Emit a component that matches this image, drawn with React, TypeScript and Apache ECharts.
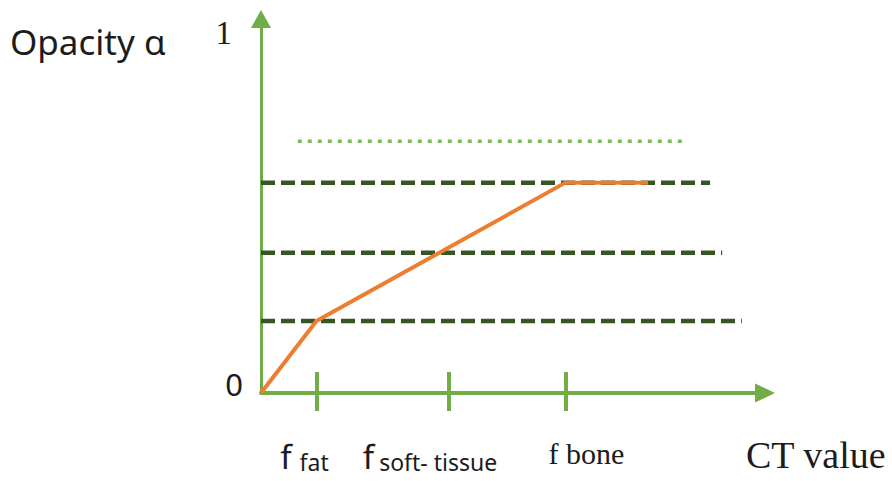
import React, { useEffect, useRef } from "react";
import * as echarts from "echarts";

// CT value positions (arbitrary 0..100 scale)
const tissueNames = ["fat", "soft-tissue", "bone"];
const tissueCT = [11, 37.3, 60.4];
// opacity transfer function (orange)
const transferCT = [0, 11, 60.4, 76.8];
const transferOpacity = [0, 0.2, 0.585, 0.585];
// dashed reference levels
const levelValues = [0.585, 0.39, 0.2];
const levelEnds = [89.1, 91.5, 95.4];
// dotted reference level
const dottedValue = 0.7;
const dottedRange = [7.3, 83.7];
// y tick labels
const yTickValues = [0, 1];

const GREEN = "#70AD47";
const DARK_GREEN = "#375623";
const ORANGE = "#ED7D31";
const TEXT = "#1c1c1c";

export default function App() {
  const ref = useRef<HTMLDivElement>(null);
  useEffect(() => {
    document.body.style.margin = "0";
    const chart = echarts.init(ref.current!, null, { renderer: "svg" });

    const series: any[] = [];
    levelValues.forEach((v, i) => {
      series.push({
        type: "line",
        data: [
          [0, v],
          [levelEnds[i], v],
        ],
        symbol: "none",
        lineStyle: { color: DARK_GREEN, width: 4.5, type: [14, 6] },
        z: 2,
      });
    });
    series.push({
      type: "line",
      data: [
        [dottedRange[0], dottedValue],
        [dottedRange[1], dottedValue],
      ],
      symbol: "none",
      lineStyle: { color: "#7DBB5A", width: 3.5, type: [4, 6] },
      z: 2,
    });
    series.push({
      type: "line",
      data: transferCT.map((x, i) => [x, transferOpacity[i]]),
      symbol: "none",
      lineStyle: { color: ORANGE, width: 4 },
      z: 3,
    });

    const labelFor = (val: number) => {
      let idx = 0;
      let best = Infinity;
      tissueCT.forEach((c, i) => {
        const d = Math.abs(c - val);
        if (d < best) {
          best = d;
          idx = i;
        }
      });
      const name = tissueNames[idx];
      if (name === "fat") return "{fb|f}{sfat|fat}";
      if (name === "soft-tissue") return "{fb|f}{ssoft|soft- tissue}";
      return "{bone|f bone}";
    };

    const rich = {
      fb: {
        fontFamily: "Noto Sans",
        fontSize: 33,
        lineHeight: 33,
        color: TEXT,
        verticalAlign: "bottom",
      },
      sfat: {
        fontFamily: "Noto Sans",
        fontSize: 23,
        lineHeight: 23,
        color: TEXT,
        verticalAlign: "bottom",
        padding: [0, 24, 0, 8],
      },
      ssoft: {
        fontFamily: "Noto Sans",
        fontSize: 23,
        lineHeight: 23,
        color: TEXT,
        verticalAlign: "bottom",
        padding: [0, 38, 0, 5],
      },
      bone: {
        fontFamily: "Liberation Serif",
        fontSize: 30,
        lineHeight: 28,
        color: TEXT,
        verticalAlign: "bottom",
        padding: [8, 0, 0, 42],
      },
    };

    const labelBase = {
      show: true,
      hideOverlap: false,
      showMinLabel: true,
      showMaxLabel: true,
      margin: 47,
      formatter: (v: number) => labelFor(v),
      rich,
    };

    chart.setOption({
      animation: false,
      grid: {
        left: 261,
        right: 127,
        top: 19,
        bottom: 88,
        containLabel: false,
        outerBoundsMode: "none",
      },
      xAxis: [
        {
          type: "value",
          min: 0,
          max: 100,
          splitLine: { show: false },
          axisLine: {
            show: true,
            onZero: false,
            symbol: ["none", "triangle"],
            symbolSize: [19, 20],
            lineStyle: { color: GREEN, width: 4 },
          },
          axisTick: {
            show: true,
            customValues: tissueCT,
            length: 18,
            lineStyle: { color: GREEN, width: 4 },
          },
          axisLabel: {
            ...labelBase,
            customValues: [tissueCT[0], tissueCT[2]],
          },
        },
        {
          type: "value",
          min: 0,
          max: 100,
          position: "bottom",
          splitLine: { show: false },
          axisLine: { show: false },
          axisTick: {
            show: true,
            inside: true,
            customValues: tissueCT,
            length: 21,
            lineStyle: { color: GREEN, width: 4 },
          },
          axisLabel: {
            ...labelBase,
            customValues: [tissueCT[1]],
          },
        },
      ],
      yAxis: {
        type: "value",
        min: 0,
        max: 1.04,
        splitLine: { show: false },
        axisTick: { show: false },
        axisLine: {
          show: true,
          onZero: false,
          symbol: ["none", "triangle"],
          symbolSize: [20, 18],
          lineStyle: { color: GREEN, width: 3 },
        },
        axisLabel: {
          show: true,
          customValues: yTickValues,
          margin: 18,
          showMinLabel: true,
          showMaxLabel: true,
          formatter: (v: number) => (v === 0 ? "{zero|0}" : "{one|" + v + "}"),
          rich: {
            zero: {
              fontFamily: "Noto Sans",
              fontSize: 31,
              color: TEXT,
              padding: [0, 0, 18, 0],
            },
            one: {
              fontFamily: "Liberation Serif",
              fontSize: 33,
              color: TEXT,
              padding: [0, 11, 0, 0],
            },
          },
        },
      },
      graphic: [
        {
          type: "text",
          left: 10,
          top: 24,
          style: {
            text: "Opacity α",
            fontFamily: "Noto Sans",
            fontSize: 35,
            fill: TEXT,
          },
        },
        {
          type: "text",
          left: 746,
          top: 436,
          style: {
            text: "CT value",
            fontFamily: "Liberation Serif",
            fontSize: 38,
            fill: TEXT,
          },
        },
      ],
      series,
    });
    return () => chart.dispose();
  }, []);
  return <div ref={ref} style={{ width: 892, height: 481 }} />;
}
